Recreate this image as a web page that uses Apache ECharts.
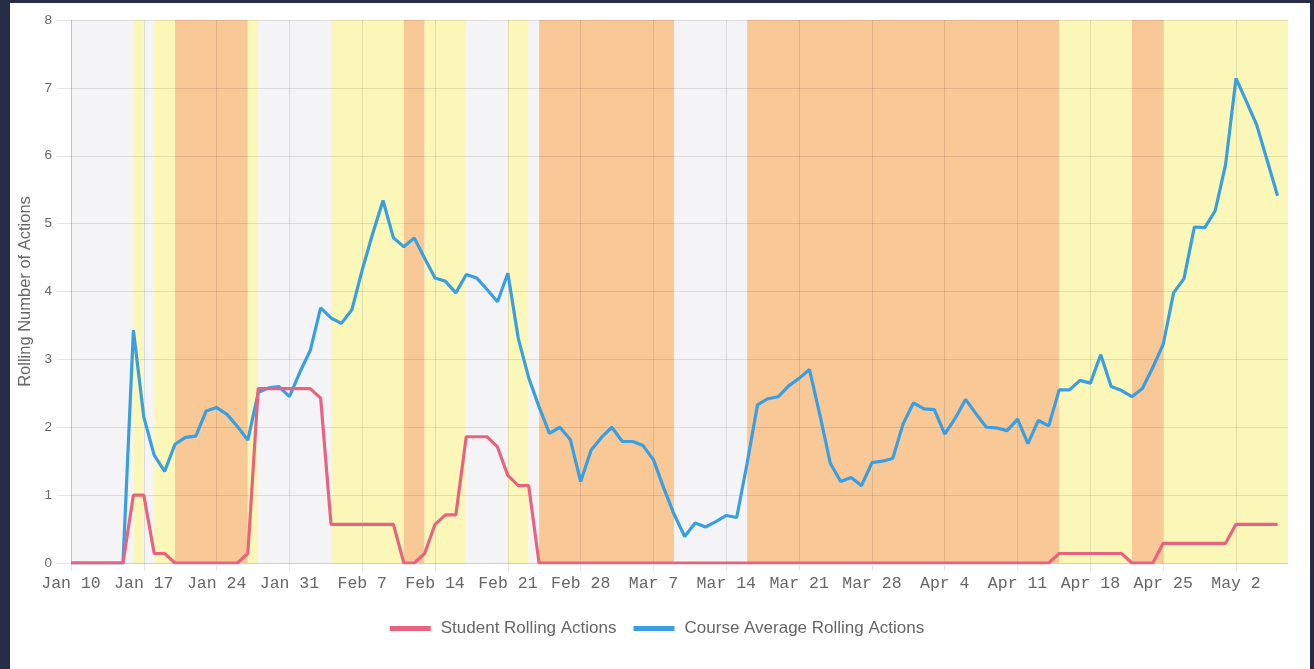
<!DOCTYPE html>
<html>
<head>
<meta charset="utf-8">
<script src="https://cdn.jsdelivr.net/npm/echarts@6/dist/echarts.min.js"></script>
<style>
html,body{margin:0;padding:0;background:#282d47;width:1314px;height:669px;overflow:hidden;}
#card{position:absolute;left:10px;top:3px;width:1300px;height:666px;background:#ffffff;}
#chart{position:absolute;left:0;top:0;width:1314px;height:669px;}
</style>
</head>
<body>
<div id="card"></div>
<div id="chart"></div>
<script>
// ---- data ----
var startDate = [2021, 0, 10];           // Jan 10
var dayCount = 118;                      // Jan 10 .. May 7 (axis extent)
var monthNames = ['Jan','Feb','Mar','Apr','May','Jun','Jul','Aug','Sep','Oct','Nov','Dec'];
var yTicks = [0,1,2,3,4,5,6,7,8];

var studentRolling = [
  0,0,0,0,0,0, 1,1, 0.14,0.14, 0,0,0,0,0,0,0, 0.14,
  2.57,2.57,2.57,2.57,2.57,2.57, 2.43,
  0.57,0.57,0.57,0.57,0.57,0.57,0.57,
  0,0, 0.14, 0.57, 0.71,0.71, 1.86,1.86,1.86, 1.71, 1.29, 1.14,1.14,
  0,0,0,0,0,0,0,0,0,0, 0,0,0,0,0,0,0,0,0,0, 0,0,0,0,0,0,0,0,0,0,
  0,0,0,0,0,0,0,0,0,0, 0,0,0,0,0,0,0,0,0,0,
  0.14,0.14,0.14,0.14,0.14,0.14,0.14,
  0,0,0,
  0.29,0.29,0.29,0.29,0.29,0.29,0.29,
  0.57,0.57,0.57,0.57,0.57
];

var courseRolling = [
  0,0,0,0,0,0, 3.43,2.15,1.59,1.35,1.75,1.85,1.87,2.24,2.29,2.19,2.01,1.81,
  2.51,2.58,2.6,2.45,2.81,3.13,3.76,3.61,3.53,3.73,4.32,4.85,5.34,4.79,
  4.66,4.79,4.49,4.2,4.15,3.98,4.25,4.2,4.03,3.85,4.27,3.31,2.73,2.3,
  1.91,2.0,1.82,1.2,1.66,1.85,2.0,1.79,1.79,1.73,1.52,1.1,0.71,0.39,
  0.59,0.53,0.61,0.7,0.67,1.47,2.33,2.42,2.45,2.61,2.72,2.85,2.18,1.47,
  1.2,1.26,1.14,1.48,1.5,1.54,2.05,2.36,2.27,2.26,1.9,2.13,2.41,2.2,
  2.0,1.99,1.95,2.12,1.76,2.1,2.02,2.55,2.55,2.69,2.65,3.07,2.6,2.54,
  2.45,2.57,2.88,3.22,3.98,4.19,4.95,4.94,5.19,5.87,7.14,6.8,6.45,5.93,5.41
];

// background bands: [first day index, end day index (exclusive), kind]
var bands = [
  [0,6,'gray'],[6,7,'yellow'],[7,8,'gray'],[8,10,'yellow'],[10,17,'orange'],
  [17,18,'yellow'],[18,25,'gray'],[25,32,'yellow'],[32,34,'orange'],[34,38,'yellow'],
  [38,42,'gray'],[42,44,'yellow'],[44,45,'gray'],[45,58,'orange'],[58,65,'gray'],
  [65,95,'orange'],[95,102,'yellow'],[102,105,'orange'],[105,117,'yellow']
];
var bandColors = {gray:'#f4f4f6', yellow:'#faf7b8', orange:'#f9c897'};

// ---- build categories ----
var categories = [];
for (var i = 0; i < dayCount; i++) {
  var dt = new Date(startDate[0], startDate[1], startDate[2] + i);
  categories.push(monthNames[dt.getMonth()] + ' ' + dt.getDate());
}

var areaData = bands.map(function(b){
  return [{xAxis: categories[b[0]], itemStyle:{color: bandColors[b[2]]}}, {xAxis: categories[b[1]]}];
});

var chart = echarts.init(document.getElementById('chart'), null, {renderer:'canvas'});
var gridColor = 'rgba(0,0,0,0.1)';
var sans = 'Liberation Sans, Arial, sans-serif';
chart.setOption({
  animation: false,
  backgroundColor: 'transparent',
  grid: {left: 71, right: 26, top: 20, bottom: 106, containLabel: false},
  legend: {
    top: 615, left: 'center',
    itemWidth: 41, itemHeight: 5, itemGap: 17,
    icon: 'rect',
    textStyle: {fontFamily: sans, fontSize: 17, color: '#666', padding: [0,0,0,5]},
    data: ['Student Rolling Actions', 'Course Average Rolling Actions']
  },
  xAxis: {
    type: 'category', data: categories, boundaryGap: false, z: 1,
    axisLine: {show: true, lineStyle: {color: gridColor}},
    axisTick: {show: true, interval: 6, length: 8, lineStyle: {color: gridColor}},
    axisLabel: {interval: 6, margin: 12, color: '#666', fontFamily: 'Liberation Mono, Courier New, monospace', fontSize: 16.5},
    splitLine: {show: true, interval: 6, lineStyle: {color: gridColor}}
  },
  yAxis: {
    type: 'value', min: yTicks[0], max: yTicks[yTicks.length-1], interval: 1, z: 1,
    name: 'Rolling Number of Actions', nameLocation: 'middle', nameGap: 33,
    nameTextStyle: {fontFamily: sans, fontSize: 16.5, color: '#666'},
    axisLine: {show: true, lineStyle: {color: gridColor}},
    axisTick: {show: true, length: 14, lineStyle: {color: gridColor}},
    axisLabel: {margin: 19, color: '#666', fontFamily: sans, fontSize: 13.5},
    splitLine: {show: true, lineStyle: {color: gridColor}}
  },
  series: [
    {
      type: 'line', name: '_bands', data: [], z: 0, silent: true,
      markArea: {silent: true, z: 0, data: areaData}
    },
    {
      type: 'line', name: 'Student Rolling Actions', data: studentRolling, z: 4,
      showSymbol: false, symbol: 'none',
      lineStyle: {width: 3.2, color: '#e6647f'}, itemStyle: {color: '#e6647f'}
    },
    {
      type: 'line', name: 'Course Average Rolling Actions', data: courseRolling, z: 3,
      showSymbol: false, symbol: 'none',
      lineStyle: {width: 3.2, color: '#3a9fe0'}, itemStyle: {color: '#3a9fe0'}
    }
  ]
});
</script>
</body>
</html>
